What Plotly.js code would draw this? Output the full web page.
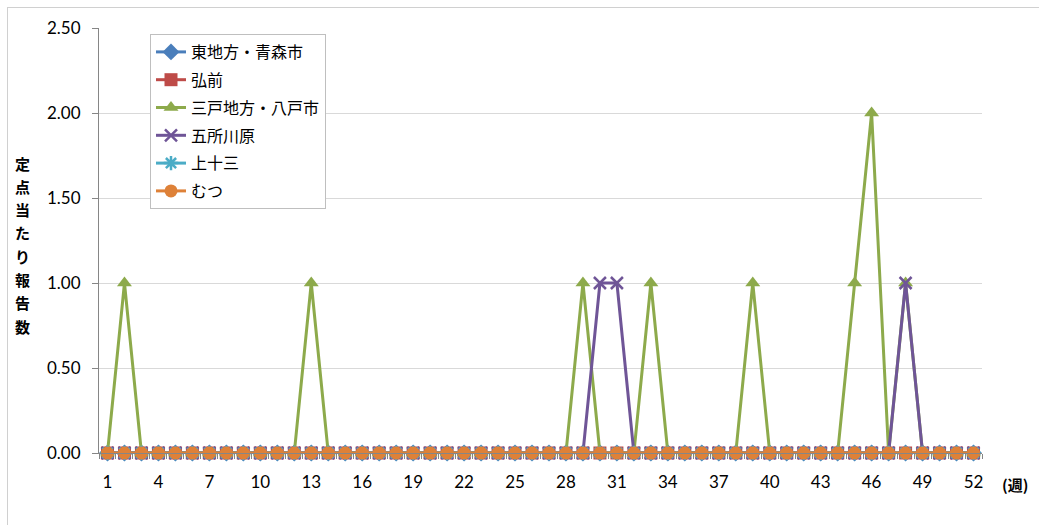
<!DOCTYPE html>
<html><head><meta charset="utf-8">
<script src="https://cdn.plot.ly/plotly-3.0.1.min.js"></script>
<style>
html,body{margin:0;padding:0;background:#fff;}
#wrap{position:absolute;left:0;top:0;width:1039px;height:525px;}
#frame{position:absolute;left:7px;top:7px;width:1040px;height:530px;border-left:1px solid #d0d0d0;border-top:1px solid #d0d0d0;}
#chart{position:absolute;left:0;top:0;width:1039px;height:525px;}
</style></head>
<body><div id="wrap"><div id="frame"></div><div id="chart"></div></div>
<script>
const weeks = Array.from({length:52}, (_, i) => i + 1);
const seriesNames = ["東地方・青森市","弘前","三戸地方・八戸市","五所川原","上十三","むつ"];
const aomori    = new Array(52).fill(0);
const hirosaki  = new Array(52).fill(0);
const hachinohe = [0,1,0,0,0,0,0,0,0,0, 0,0,1,0,0,0,0,0,0,0, 0,0,0,0,0,0,0,0,1,0, 0,0,1,0,0,0,0,0,1,0, 0,0,0,0,1,2,0,1,0,0, 0,0];
const goshogawara = [0,0,0,0,0,0,0,0,0,0, 0,0,0,0,0,0,0,0,0,0, 0,0,0,0,0,0,0,0,0,1, 1,0,0,0,0,0,0,0,0,0, 0,0,0,0,0,0,0,1,0,0, 0,0];
const kamitosa  = new Array(52).fill(0);
const mutsu     = new Array(52).fill(0);
const xTickVals = [1,4,7,10,13,16,19,22,25,28,31,34,37,40,43,46,49,52];
const yTickVals = [0,0.5,1,1.5,2,2.5];
const yTitle = "定点当たり報告数";
const xUnit = "(週)";

const colors = ["#4A7EBB","#BE4B48","#8DAA4B","#6F5597","#4BACC6","#DE8138"];
const symbols = ["diamond","square","triangle-up","x-thin","asterisk","circle"];
const values = [aomori, hirosaki, hachinohe, goshogawara, kamitosa, mutsu];

const traces = values.map((v, i) => ({
  x: weeks, y: v, name: seriesNames[i], type: "scatter", mode: "lines+markers",
  legendgroup: "g"+i, cliponaxis: false,
  line: {color: colors[i], width: 3},
  marker: {symbol: symbols[i], size: (i===3||i===4)?12:13, color: colors[i],
           line: {color: colors[i], width: (i===3||i===4)?2.5:0}}
}));

const annotations = [];
const chars = Array.from(yTitle);
chars.forEach((c, k) => {
  annotations.push({xref:"paper", yref:"paper", x:(22-99)/883, y:(453-163-k*23.3)/425,
    text:"<b>"+c+"</b>", showarrow:false, xanchor:"center", yanchor:"middle",
    font:{family:"Noto Sans CJK JP", size:15, color:"#000"}});
});
annotations.push({xref:"paper", yref:"paper", x:(1015-99)/883, y:(453-485)/425,
  text:"<b>"+xUnit+"</b>", showarrow:false, xanchor:"center", yanchor:"middle",
  font:{family:"Noto Sans CJK JP", size:15, color:"#000"}});

const layout = {
  width:1039, height:525,
  margin:{l:99, r:57, t:28, b:72},
  paper_bgcolor:"rgba(0,0,0,0)", plot_bgcolor:"rgba(0,0,0,0)",
  showlegend:true,
  legend:{x:(150-99)/883, y:(453-34)/425, xanchor:"left", yanchor:"top",
    bgcolor:"#fff", bordercolor:"#BFBFBF", borderwidth:1,
    font:{family:"Noto Sans CJK JP", size:16, color:"#000"},
    traceorder:"grouped", tracegroupgap:4},
  xaxis:{range:[0.5,52.5], tickmode:"array", tickvals:xTickVals, ticks:"",
    showgrid:false, zeroline:false, showline:true, linecolor:"#868686", linewidth:1,
    ticklabelstandoff:14,
    tickfont:{family:"Lato", size:17, color:"#000"},
    minor:{tick0:0.5, dtick:1, ticks:"outside", ticklen:5, tickcolor:"#868686", showgrid:false}},
  yaxis:{range:[0,2.5], tickmode:"array", tickvals:yTickVals, tickformat:".2f",
    ticks:"outside", ticklen:6, tickcolor:"#868686", ticklabelstandoff:8,
    showgrid:true, gridcolor:"#D9D9D9", gridwidth:1, zeroline:false,
    showline:true, linecolor:"#868686", linewidth:1,
    tickfont:{family:"Lato", size:17, color:"#000"}},
  annotations: annotations
};
Plotly.newPlot("chart", traces, layout, {displayModeBar:false, staticPlot:true});
</script></body></html>
